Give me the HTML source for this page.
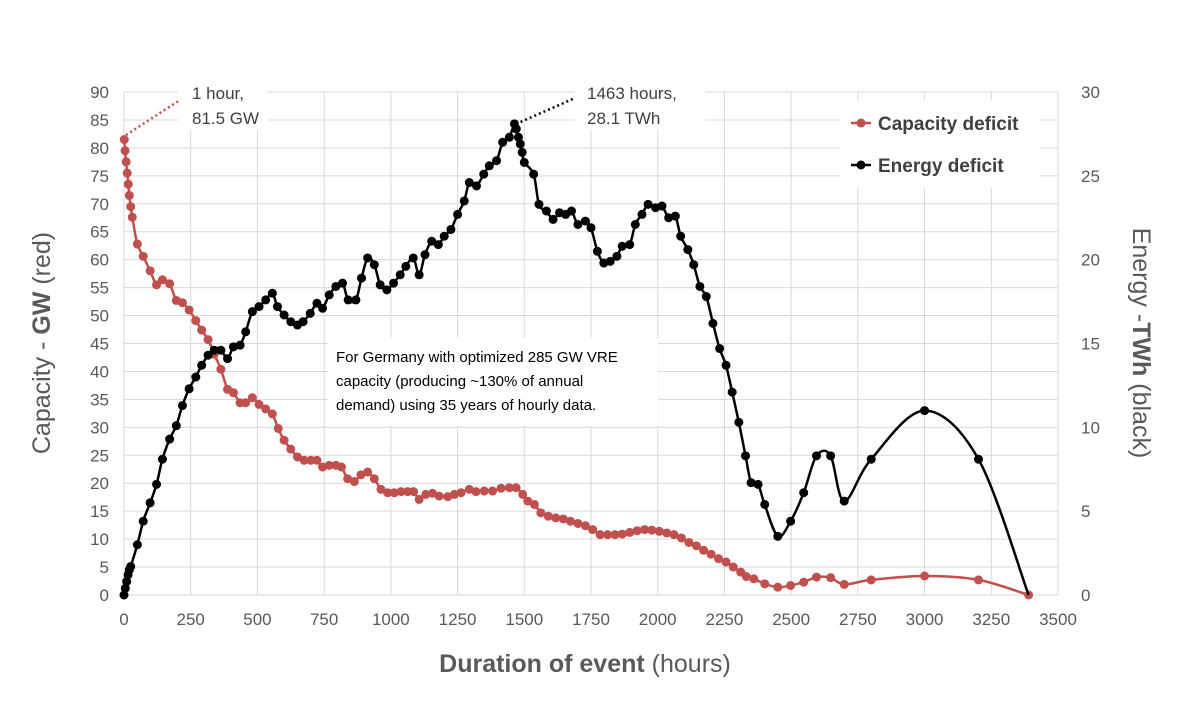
<!DOCTYPE html>
<html><head><meta charset="utf-8"><style>
body{margin:0;background:#fff;font-family:"Liberation Sans",sans-serif}
svg text{font-family:"Liberation Sans",sans-serif}
</style></head><body>
<svg id="chart" width="1200" height="699" viewBox="0 0 1200 699" xmlns="http://www.w3.org/2000/svg">
<rect width="1200" height="699" fill="#fff"/>
<g id="grid"></g>
<g id="axes"></g>
<g id="series"></g>
<g id="annot"></g>
</svg>
<script>
const xTicks=[0,250,500,750,1000,1250,1500,1750,2000,2250,2500,2750,3000,3250,3500];
const yLeftTicks=[0,5,10,15,20,25,30,35,40,45,50,55,60,65,70,75,80,85,90];
const yRightTicks=[0,5,10,15,20,25,30];
const capHours=[1,4,8,12,16,20,25,31,50,72,98,122,144,171,196,219,244,269,291,315,338,363,388,410,435,456,481,506,531,556,578,600,625,650,675,700,723,744,769,794,815,838,863,888,913,938,963,988,1013,1038,1063,1085,1106,1131,1156,1181,1213,1238,1263,1294,1319,1350,1381,1413,1444,1469,1494,1513,1538,1562,1590,1618,1646,1673,1701,1729,1756,1784,1812,1840,1867,1895,1923,1951,1978,2006,2034,2061,2089,2117,2145,2172,2200,2228,2256,2283,2311,2332,2360,2401,2450,2498,2547,2595,2648,2699,2800,3000,3202,3390];
const capGW=[81.5,79.5,77.5,75.5,73.5,71.5,69.5,67.6,62.8,60.6,58.0,55.5,56.4,55.7,52.7,52.3,51.0,49.1,47.4,45.7,43.1,40.4,36.8,36.2,34.4,34.4,35.3,34.1,33.3,32.4,29.8,27.7,26.1,24.7,24.1,24.1,24.1,22.9,23.2,23.2,22.9,20.8,20.3,21.5,22.0,20.8,18.9,18.3,18.3,18.5,18.5,18.5,17.1,18.0,18.2,17.7,17.6,18.0,18.3,18.9,18.5,18.6,18.6,19.1,19.2,19.2,18.0,16.8,16.2,14.7,14.1,13.8,13.6,13.2,12.8,12.4,11.7,10.8,10.8,10.8,10.9,11.2,11.5,11.7,11.6,11.4,11.1,10.8,10.2,9.4,8.8,8.0,7.3,6.5,5.9,5.0,4.1,3.3,2.9,2.0,1.4,1.7,2.3,3.2,3.1,1.9,2.7,3.4,2.7,0];
const enHours=[0,5,10,15,20,25,50,72,98,122,144,171,196,219,244,269,291,315,338,363,388,410,435,456,481,506,531,556,575,600,625,650,671,698,723,744,769,794,819,840,869,890,913,938,960,985,1010,1035,1056,1084,1106,1128,1153,1178,1200,1225,1250,1275,1294,1321,1348,1369,1396,1419,1444,1463,1470,1478,1485,1492,1500,1535,1555,1583,1608,1632,1655,1677,1701,1729,1750,1774,1798,1822,1847,1867,1895,1916,1941,1964,1992,2016,2041,2066,2086,2113,2135,2158,2182,2207,2232,2256,2279,2304,2329,2350,2376,2401,2450,2498,2547,2595,2648,2699,2800,3000,3202];
const enTWh=[0,0.4,0.8,1.2,1.5,1.7,3.0,4.4,5.5,6.6,8.1,9.3,10.1,11.3,12.3,13.0,13.7,14.3,14.6,14.6,14.1,14.8,14.9,15.7,16.9,17.2,17.6,18.0,17.2,16.7,16.3,16.1,16.3,16.8,17.4,17.1,17.9,18.4,18.6,17.6,17.6,18.9,20.1,19.7,18.5,18.2,18.6,19.1,19.6,20.1,19.1,20.3,21.1,20.9,21.4,21.8,22.7,23.5,24.6,24.4,25.1,25.6,25.9,27.0,27.3,28.1,27.8,27.3,26.9,26.4,25.8,25.1,23.3,22.9,22.4,22.8,22.7,22.9,22.1,22.3,21.9,20.5,19.8,19.9,20.2,20.8,20.9,22.1,22.7,23.3,23.1,23.2,22.5,22.6,21.4,20.6,19.7,18.4,17.8,16.2,14.7,13.7,12.1,10.3,8.3,6.7,6.6,5.4,3.5,4.4,6.1,8.3,8.3,5.6,8.1,11.0,8.1];
const enEnd=[3390,0];

const X0=124,X1=1058,Y0=595,Y1=92;
const xS=h=>X0+(X1-X0)*h/3500;
const yL=v=>Y0-(Y0-Y1)*v/90;
const yR=v=>Y0-(Y0-Y1)*v/30;
const NS="http://www.w3.org/2000/svg";
function mk(tag,attrs,parent,txt){const e=document.createElementNS(NS,tag);for(const k in attrs)e.setAttribute(k,attrs[k]);if(txt!==undefined)e.textContent=txt;parent.appendChild(e);return e;}
const grid=document.getElementById('grid'),axes=document.getElementById('axes'),series=document.getElementById('series'),annot=document.getElementById('annot');

yLeftTicks.forEach(v=>{
  const l=mk('line',{x1:X0,x2:X1,y1:yL(v),y2:yL(v),stroke:'#d9d9d9','stroke-width':1},grid);
  
  
  const t=mk('text',{x:X0-15,y:yL(v)+6,'text-anchor':'end','font-size':17,fill:'#595959'},axes,String(v));
  
  
});
xTicks.forEach(v=>{
  const l=mk('line',{x1:xS(v),x2:xS(v),y1:Y1,y2:Y0,stroke:'#d9d9d9','stroke-width':1},grid);
  
  
  const t=mk('text',{x:xS(v),y:Y0+30,'text-anchor':'middle','font-size':17,fill:'#595959'},axes,String(v));
  
  
});
yRightTicks.forEach(v=>{
  const t=mk('text',{x:1081,y:yR(v)+6,'text-anchor':'start','font-size':17,fill:'#595959'},axes,String(v));
  
  
});
const yt=mk('text',{transform:'translate(50,343) rotate(-90)','text-anchor':'middle','font-size':25,fill:'#595959'},axes);


yt.innerHTML='Capacity - <tspan font-weight="bold">GW</tspan> (red)';
const rt=mk('text',{transform:'translate(1133,343) rotate(90)','text-anchor':'middle','font-size':25,fill:'#595959'},axes);


rt.innerHTML='Energy -<tspan font-weight="bold">TWh</tspan> (black)';
const xt=mk('text',{x:585,y:672,'text-anchor':'middle','font-size':25,fill:'#595959'},axes);


xt.innerHTML='<tspan font-weight="bold">Duration of event</tspan> (hours)';

function smooth(pts){
  let d='M'+pts[0][0]+','+pts[0][1];
  for(let i=0;i<pts.length-1;i++){
    const p0=pts[i-1]||pts[i],p1=pts[i],p2=pts[i+1],p3=pts[i+2]||p2;
    const c1=[p1[0]+(p2[0]-p0[0])/6,p1[1]+(p2[1]-p0[1])/6];
    const c2=[p2[0]-(p3[0]-p1[0])/6,p2[1]-(p3[1]-p1[1])/6];
    d+=' C'+c1[0].toFixed(1)+','+c1[1].toFixed(1)+' '+c2[0].toFixed(1)+','+c2[1].toFixed(1)+' '+p2[0].toFixed(1)+','+p2[1].toFixed(1);
  }
  return d;
}
function drawSeries(hs,vs,yf,color,name,extra){
  const pts=hs.map((h,i)=>[xS(h),yf(vs[i])]);
  const all=extra?pts.concat([[xS(extra[0]),yf(extra[1])]]):pts;
  const p=mk('path',{d:smooth(all),fill:'none',stroke:color,'stroke-width':2.5},series);
  
  
  pts.forEach(q=>{
    const c=mk('circle',{cx:q[0],cy:q[1],r:4.5,fill:color},series);
    
    
  });
}
drawSeries(capHours,capGW,yL,'#c0504d','capacity-deficit');
drawSeries(enHours,enTWh,yR,'#000','energy-deficit',enEnd);

const b1=mk('rect',{x:178,y:74,width:90,height:56,fill:'#fff'},annot);


const l1=mk('line',{x1:126,y1:135,x2:180,y2:100,stroke:'#c0504d','stroke-width':2.5,'stroke-dasharray':'2,3'},annot);


const a1=mk('text',{x:192,y:99,'font-size':17,fill:'#404040'},annot,'1 hour,');


const a1b=mk('text',{x:192,y:124,'font-size':17,fill:'#404040'},annot,'81.5 GW');


const b2=mk('rect',{x:575,y:74,width:130,height:56,fill:'#fff'},annot);


const l2=mk('line',{x1:516,y1:124,x2:575,y2:98,stroke:'#000','stroke-width':2.5,'stroke-dasharray':'2,3'},annot);


const a2=mk('text',{x:587,y:99,'font-size':17,fill:'#404040'},annot,'1463 hours,');


const a2b=mk('text',{x:587,y:124,'font-size':17,fill:'#404040'},annot,'28.1 TWh');



const nb=mk('rect',{x:328,y:338,width:330,height:88,fill:'#fff'},annot);


['For Germany with optimized 285 GW VRE','capacity  (producing ~130% of annual','demand) using 35 years of hourly data.'].forEach((s,i)=>{
  const t=mk('text',{x:336,y:362+i*24,'font-size':15,fill:'#000'},annot,s);
  
  
});

const lg=mk('rect',{x:840,y:100,width:200,height:88,fill:'#fff'},annot);


[['Capacity deficit','#c0504d',123],['Energy deficit','#000',165]].forEach(([lbl,col,y])=>{
  const ln=mk('line',{x1:851,x2:871,y1:y,y2:y,stroke:col,'stroke-width':2.5},annot);
  
  
  const c=mk('circle',{cx:861,cy:y,r:4.5,fill:col},annot);
  
  
  const t=mk('text',{x:878,y:y+7,'font-size':19,'font-weight':'bold',fill:'#404040'},annot,lbl);
  
  
});
</script>
</body></html>
